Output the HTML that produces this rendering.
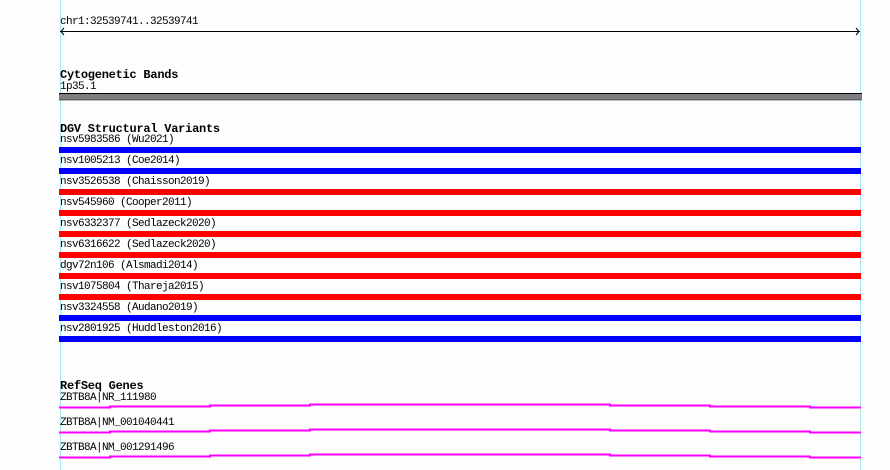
<!DOCTYPE html>
<html><head><style>
html,body{margin:0;padding:0;background:#fdfefd;}
body{width:890px;height:470px;position:relative;overflow:hidden;font-family:"Liberation Mono","DejaVu Sans Mono",monospace;}
.t{position:absolute;left:60px;font-size:11px;line-height:12px;color:#000;white-space:pre;letter-spacing:-0.6px;}
.h{position:absolute;left:60px;font-size:12px;font-weight:bold;line-height:12px;color:#000;white-space:pre;letter-spacing:-0.25px;}
.bar{position:absolute;left:59px;width:802px;height:6px;}
</style></head><body>
<svg width="890" height="470" style="position:absolute;left:0;top:0">
<line x1="60.5" y1="0" x2="60.5" y2="470" stroke="#a8e8ee" stroke-width="1"/>
<line x1="860.5" y1="0" x2="860.5" y2="470" stroke="#a8e8ee" stroke-width="1"/>
<line x1="60" y1="31.5" x2="860" y2="31.5" stroke="#000" stroke-width="1"/>
<polyline points="64,28 61,31.5 64,35" fill="none" stroke="#000" stroke-width="1"/>
<polyline points="856,28 859,31.5 856,35" fill="none" stroke="#000" stroke-width="1"/>
<rect x="59" y="93" width="803" height="7" fill="#807e80"/>
<line x1="59" y1="93.5" x2="862" y2="93.5" stroke="#000"/>
<line x1="59" y1="100" x2="862" y2="100" stroke="#000" stroke-width="0.6"/>
<g fill="none" stroke="#ff00ff" stroke-width="2">
<polyline points="59,407.5 110,407.5 110,406.5 210,406.5 210,405.5 310,405.5 310,404.5 610,404.5 610,405.5 710,405.5 710,406.5 810,406.5 810,407.5 861,407.5"/>
<polyline points="59,432.5 110,432.5 110,431.5 210,431.5 210,430.5 310,430.5 310,429.5 610,429.5 610,430.5 710,430.5 710,431.5 810,431.5 810,432.5 861,432.5"/>
<polyline points="59,457.5 110,457.5 110,456.5 210,456.5 210,455.5 310,455.5 310,454.5 610,454.5 610,455.5 710,455.5 710,456.5 810,456.5 810,457.5 861,457.5"/>
</g>
</svg>
<div class="t" style="top:16px">chr1:32539741..32539741</div>
<div class="h" style="top:69px">Cytogenetic Bands</div>
<div class="t" style="top:81px">1p35.1</div>
<div class="h" style="top:123px">DGV Structural Variants</div>
<div class="t" style="top:134px">nsv5983586 (Wu2021)</div>
<div class="bar" style="top:147px;background:#0000ff"></div>
<div class="t" style="top:155px">nsv1005213 (Coe2014)</div>
<div class="bar" style="top:168px;background:#0000ff"></div>
<div class="t" style="top:176px">nsv3526538 (Chaisson2019)</div>
<div class="bar" style="top:189px;background:#ff0000"></div>
<div class="t" style="top:197px">nsv545960 (Cooper2011)</div>
<div class="bar" style="top:210px;background:#ff0000"></div>
<div class="t" style="top:218px">nsv6332377 (Sedlazeck2020)</div>
<div class="bar" style="top:231px;background:#ff0000"></div>
<div class="t" style="top:239px">nsv6316622 (Sedlazeck2020)</div>
<div class="bar" style="top:252px;background:#ff0000"></div>
<div class="t" style="top:260px">dgv72n106 (Alsmadi2014)</div>
<div class="bar" style="top:273px;background:#ff0000"></div>
<div class="t" style="top:281px">nsv1075804 (Thareja2015)</div>
<div class="bar" style="top:294px;background:#ff0000"></div>
<div class="t" style="top:302px">nsv3324558 (Audano2019)</div>
<div class="bar" style="top:315px;background:#0000ff"></div>
<div class="t" style="top:323px">nsv2801925 (Huddleston2016)</div>
<div class="bar" style="top:336px;background:#0000ff"></div>
<div class="h" style="top:380px">RefSeq Genes</div>
<div class="t" style="top:392px">ZBTB8A|NR_111980</div>
<div class="t" style="top:417px">ZBTB8A|NM_001040441</div>
<div class="t" style="top:442px">ZBTB8A|NM_001291496</div>
</body></html>
